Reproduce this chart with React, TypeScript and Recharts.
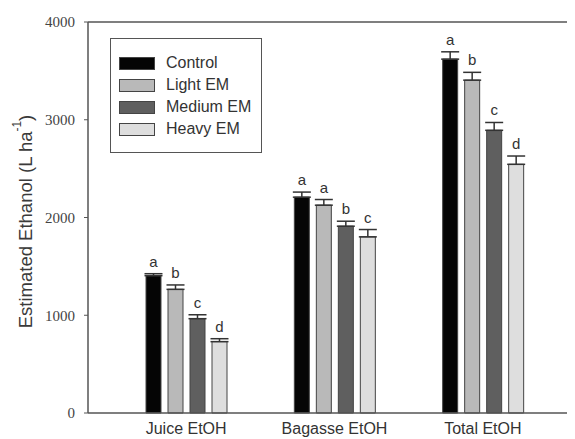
import React from 'react';
import { BarChart, Bar, XAxis, YAxis, ErrorBar, ReferenceLine } from 'recharts';

const categories = ['Juice EtOH', 'Bagasse EtOH', 'Total EtOH'];
const control = [1405, 2208, 3620];
const controlErr = [20, 52, 75];
const light = [1265, 2126, 3405];
const lightErr = [45, 58, 80];
const medium = [965, 1911, 2892];
const mediumErr = [40, 51, 80];
const heavy = [730, 1802, 2544];
const heavyErr = [30, 75, 85];
const controlLetters = ['a', 'a', 'a'];
const lightLetters = ['b', 'a', 'b'];
const mediumLetters = ['c', 'b', 'c'];
const heavyLetters = ['d', 'c', 'd'];
const yTicks = [0, 1000, 2000, 3000, 4000];

const series = [
  { key: 'control', name: 'Control', fill: '#050505', err: controlErr, letters: controlLetters },
  { key: 'light', name: 'Light EM', fill: '#b9b9b9', err: lightErr, letters: lightLetters },
  { key: 'medium', name: 'Medium EM', fill: '#5f5f5f', err: mediumErr, letters: mediumLetters },
  { key: 'heavy', name: 'Heavy EM', fill: '#dedede', err: heavyErr, letters: heavyLetters },
];

const data = categories.map((name, i) => ({
  name,
  control: control[i], controlErr: [0, controlErr[i]],
  light: light[i], lightErr: [0, lightErr[i]],
  medium: medium[i], mediumErr: [0, mediumErr[i]],
  heavy: heavy[i], heavyErr: [0, heavyErr[i]],
}));

const sans = 'Arial, "Liberation Sans", sans-serif';

function makeLetter(err: number[], letters: string[]) {
  return (props: any) => {
    const { x, y, width, height, value, index } = props;
    if (!value) return null;
    const errPx = (err[index] * height) / value;
    return (
      <text x={x + width / 2} y={y - errPx - 7} textAnchor="middle"
        fontFamily={sans} fontSize={15} fill="#333">
        {letters[index]}
      </text>
    );
  };
}

function YLabel(props: any) {
  const vb = props.viewBox;
  const cx = vb.x + 17;
  const cy = vb.y + vb.height / 2 + 4;
  return (
    <text x={cx} y={cy} transform={`rotate(-90 ${cx} ${cy})`} textAnchor="middle"
      dominantBaseline="central" fontFamily={sans} fontSize={18.5} fill="#3a3a3a">
      Estimated Ethanol (L ha
      <tspan fontSize={12} dy={-8}>-1</tspan>
      <tspan dy={8}>)</tspan>
    </text>
  );
}

function LegendBox() {
  return (
    <div style={{
      position: 'absolute', left: 102, top: 30,
      border: '1.5px solid #555', width: 150, height: 100,
      paddingTop: 13, fontFamily: sans, fontSize: 16, color: '#333', background: '#fff',
    }}>
      {series.map((s) => (
        <div key={s.key} style={{ display: 'flex', alignItems: 'center', height: 22 }}>
          <div style={{ width: 34, height: 11, marginLeft: 8, background: s.fill, border: '1px solid #444' }} />
          <span style={{ marginLeft: 11, lineHeight: '22px' }}>{s.name}</span>
        </div>
      ))}
    </div>
  );
}

export default function App() {
  return (
    <div style={{ width: 567, height: 431, position: 'relative' }}>
      <BarChart width={567} height={431} data={data} barSize={15} barGap={7}
        margin={{ top: 14, right: 0, left: 0, bottom: 0 }}>
        <XAxis dataKey="name" axisLine={{ stroke: '#555', strokeWidth: 1.5 }} tickLine={false}
          padding={{ left: 24, right: 18 }} height={26}
          tick={{ fontFamily: sans, fontSize: 16, fill: '#333' }} tickMargin={4} />
        <YAxis domain={[0, 4000]} ticks={yTicks} width={80}
          axisLine={{ stroke: '#555', strokeWidth: 1.5 }} tickLine={{ stroke: '#555' }}
          tickSize={4} tickMargin={9}
          tick={{ fontFamily: '"Liberation Serif", "Times New Roman", serif', fontSize: 15, fill: '#444' }}
          label={{ content: YLabel }} />
        <ReferenceLine y={4000} stroke="#555" strokeWidth={1.5} />
        {series.map((s) => (
          <Bar key={s.key} dataKey={s.key} name={s.name} fill={s.fill} stroke="#444" strokeWidth={1}
            isAnimationActive={false} label={makeLetter(s.err, s.letters)}>
            <ErrorBar dataKey={`${s.key}Err`} width={9} stroke="#333" strokeWidth={1.5} direction="y" />
          </Bar>
        ))}
      </BarChart>
      <LegendBox />
    </div>
  );
}
